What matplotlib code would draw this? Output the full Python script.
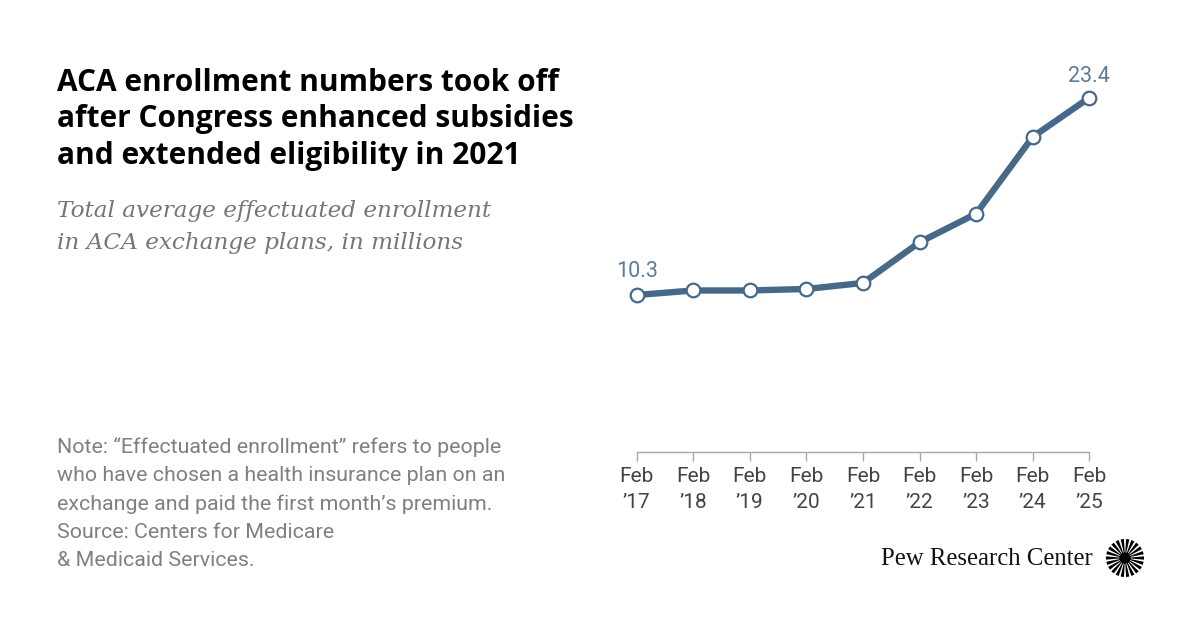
import matplotlib.pyplot as plt
from matplotlib.patches import Wedge, Circle
import numpy as np

# Data
years = ['’17', '’18', '’19', '’20', '’21', '’22', '’23', '’24', '’25']
enrollment = [10.3, 10.6, 10.6, 10.7, 11.1, 13.8, 15.7, 20.8, 23.4]

title_lines = ['ACA enrollment numbers took off',
               'after Congress enhanced subsidies',
               'and extended eligibility in 2021']
subtitle_lines = ['Total average effectuated enrollment',
                  'in ACA exchange plans, in millions']
note_lines = ['Note: “Effectuated enrollment” refers to people',
              'who have chosen a health insurance plan on an',
              'exchange and paid the first month’s premium.',
              'Source: Centers for Medicare',
              '& Medicaid Services.']

W, H = 1200, 628
line_color = '#46698a'
label_color = '#5b7c99'

fig = plt.figure(figsize=(W / 100, H / 100), dpi=100)
fig.patch.set_facecolor('white')


def px(x, y):
    # pixel coords (top-left origin) -> figure fraction
    return x / W, 1 - y / H


# Chart axes placed in pixels
left, right, top, bottom = 636.7, 1089.3, 80, 452
ax = fig.add_axes([left / W, 1 - bottom / H, (right - left) / W, (bottom - top) / H])
ppm = 15.06  # pixels per million
ax.set_xlim(0, len(years) - 1)
ax.set_ylim(10.3 - (bottom - 295) / ppm, 10.3 + (295 - top) / ppm)

x = np.arange(len(years))
ax.plot(x, enrollment, color=line_color, lw=4.6, solid_capstyle='round',
        marker='o', ms=9.8, mfc='white', mec=line_color, mew=1.6, clip_on=False, zorder=3)

ax.annotate(f'{enrollment[0]:.1f}', (x[0], enrollment[0]), xytext=(0, 13),
            textcoords='offset points', ha='center', va='baseline',
            fontsize=15.5, color=label_color, family='Roboto')
ax.annotate(f'{enrollment[-1]:.1f}', (x[-1], enrollment[-1]), xytext=(0, 11.5),
            textcoords='offset points', ha='center', va='baseline',
            fontsize=15.5, color=label_color, family='Roboto')

for s in ['top', 'right', 'left']:
    ax.spines[s].set_visible(False)
ax.spines['bottom'].set_color('#a8a8a8')
ax.spines['bottom'].set_linewidth(1)
ax.set_yticks([])
ax.set_xticks(x)
ax.set_xticklabels(['Feb\n' + y for y in years], fontsize=15, color='#444444',
                   family='Roboto', linespacing=1.5)
ax.tick_params(axis='x', length=6.5, width=1, color='#a8a8a8', pad=4)
ax.patch.set_alpha(0)

# Title
for i, t in enumerate(title_lines):
    fig.text(*px(57, 91 + 36.5 * i), t, fontsize=21.5, fontweight='bold',
             family='Open Sans', color='black', va='baseline', ha='left')

# Subtitle
for i, t in enumerate(subtitle_lines):
    fig.text(*px(57, 217 + 32 * i), t, fontsize=16.7, style='italic',
             family='DejaVu Serif', color='#767676', va='baseline', ha='left')

# Note
for i, t in enumerate(note_lines):
    fig.text(*px(57, 453 + 28.3 * i), t, fontsize=15.4, family='Roboto',
             color='#808080', va='baseline', ha='left')

# Logo
fig.text(*px(1093, 565), 'Pew Research Center', fontsize=17.8, family='Liberation Serif',
         color='#111111', va='baseline', ha='right')
lax = fig.add_axes([1106 / W, 1 - 577 / H, 38 / W, 38 / H])
lax.set_xlim(-1, 1)
lax.set_ylim(-1, 1)
lax.set_aspect('equal')
lax.axis('off')
n_rays = 22
for k in range(n_rays):
    a = 360 / n_rays * k
    lax.add_patch(Wedge((0, 0), 1, a - 5, a + 5, width=0.85, color='black', lw=0))
lax.add_patch(Circle((0, 0), 0.3, color='black', lw=0))

fig.savefig('out.png', dpi=100)
